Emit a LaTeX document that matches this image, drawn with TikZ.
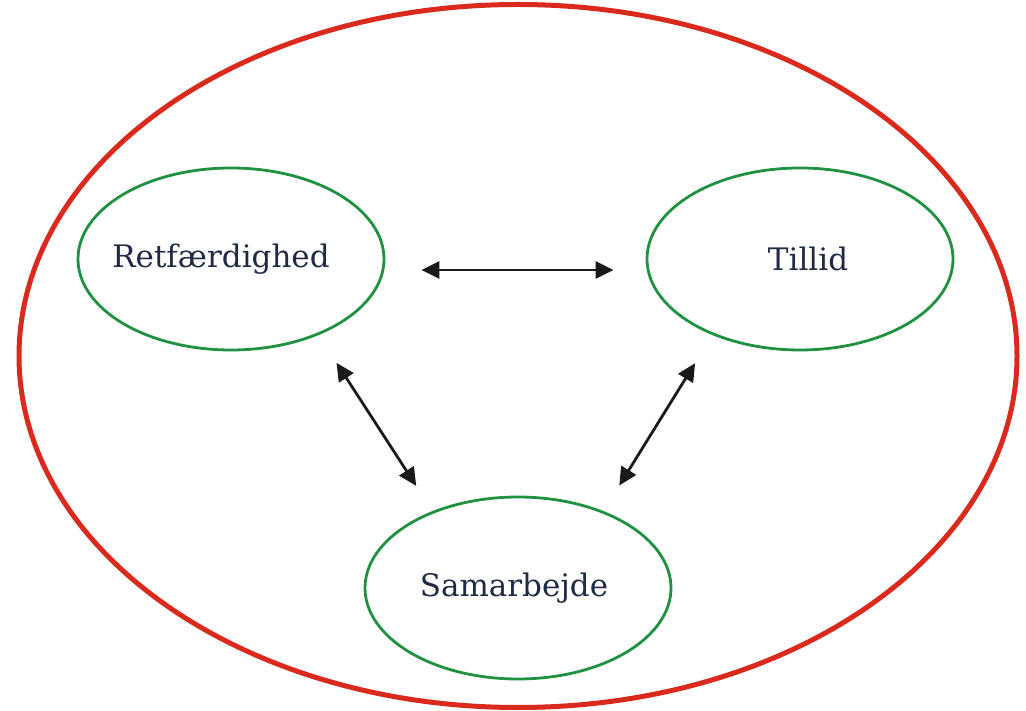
\documentclass[tikz,border=0pt]{standalone}
\usepackage{fontspec}
\setmainfont{DejaVu Serif}
\usepackage{tikz}
\usetikzlibrary{arrows.meta,shapes.geometric}
\usepackage{xcolor}
\definecolor{OuterRed}{HTML}{DA2A1E}
\definecolor{ValueGreen}{HTML}{1F9140}
\definecolor{LabelNavy}{HTML}{1F2A44}
\definecolor{LinkBlack}{HTML}{1A1A1A}
\tikzset{
  worldnode/.style={ellipse,draw=OuterRed,line width=5pt,minimum width=998pt,minimum height=703pt,inner sep=0pt},
  valuenode/.style={ellipse,draw=ValueGreen,line width=2.8pt,minimum width=306pt,minimum height=182pt,inner sep=0pt,align=center,text=LabelNavy,font=\fontsize{31}{36}\selectfont},
  link/.style={{Triangle[length=18pt,width=17pt]}-{Triangle[length=18pt,width=17pt]},line width=2.8pt,draw=LinkBlack,fill=LinkBlack}
}

\begin{document}
\begin{tikzpicture}[x=1pt,y=1pt]
\useasboundingbox (0,0) rectangle (1026,710);
\node[worldnode] (world) at (518,354) {};
\node[valuenode] (ret) at (231,451) {\hspace*{-20pt}Retfærdighed};
\node[valuenode] (til) at (800,451) {\hspace*{16pt}Tillid};
\node[valuenode] (sam) at (518,122) {\hspace*{-8pt}Samarbejde};
\draw[link,shorten <=36pt,shorten >=32pt] ([yshift=-11pt]ret.east) -- ([yshift=-11pt]til.west);
\draw[link,shorten <=33pt,shorten >=30pt] (ret.-41) -- (sam.138);
\draw[link,shorten <=33pt,shorten >=30pt] (til.-139) -- (sam.42);
\end{tikzpicture}
\end{document}
